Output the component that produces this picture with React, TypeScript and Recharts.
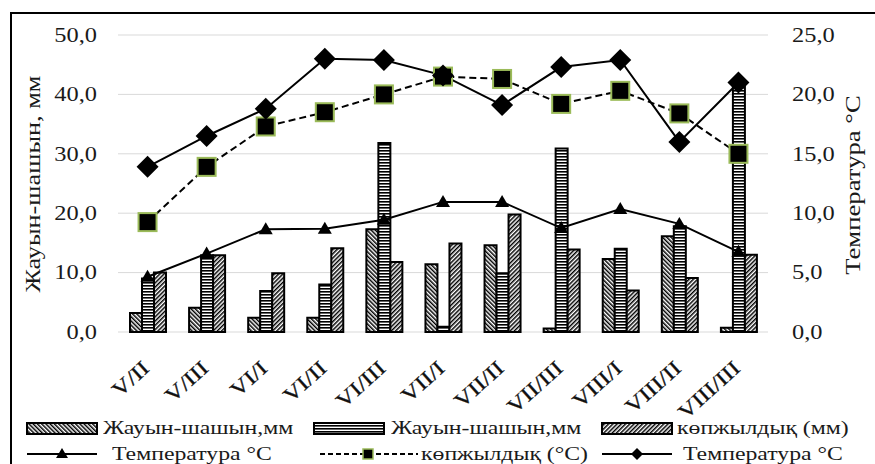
import {
  Bar,
  CartesianGrid,
  ComposedChart,
  Line,
  XAxis,
  YAxis,
} from "recharts";

const categories = [
  "V/II",
  "V/III",
  "VI/I",
  "VI/II",
  "VI/III",
  "VII/I",
  "VII/II",
  "VII/III",
  "VIII/I",
  "VIII/II",
  "VIII/III",
];

// precipitation, mm (left axis)
const rainA = [3.2, 4.1, 2.4, 2.4, 17.3, 11.4, 14.6, 0.6, 12.3, 16.1, 0.7];
const rainB = [9.0, 12.9, 6.9, 8.0, 31.8, 0.9, 9.9, 30.9, 14.0, 17.8, 41.6];
const rainAvg = [10.0, 12.9, 9.9, 14.1, 11.8, 14.9, 19.8, 13.9, 7.0, 9.1, 13.0];

// temperature lines
const tempA = [9.3, 13.2, 17.3, 17.4, 18.9, 21.9, 21.9, 17.5, 20.7, 18.2, 13.5];
const tempAvg = [9.25, 13.9, 17.3, 18.5, 20.0, 21.5, 21.3, 19.2, 20.3, 18.4, 15.0];
const tempB = [13.9, 16.5, 18.8, 23.0, 22.9, 21.6, 19.1, 22.3, 22.9, 16.0, 21.0];

const leftTicks = [0, 10, 20, 30, 40, 50];
const rightTicks = [0, 5, 10, 15, 20, 25];

const names = {
  rainA: "Жауын-шашын,мм",
  rainB: "Жауын-шашын,мм",
  rainAvg: "көпжылдық (мм)",
  tempA: "Температура °C",
  tempAvg: "көпжылдық (°C)",
  tempB: "Температура °C",
};

const data = categories.map((name, i) => ({
  name,
  rainA: rainA[i],
  rainB: rainB[i],
  rainAvg: rainAvg[i],
  tempA: tempA[i],
  tempAvg: tempAvg[i],
  tempB: tempB[i],
}));

const FONT = '"Liberation Serif", "Times New Roman", serif';
const GREEN = "#9BBB59";
const TXT = "#1a1a1a";

const fmt = (v: number) => v.toFixed(1).replace(".", ",");

const LeftTick = ({ x, y, payload }: any) => (
  <text
    transform={`translate(${x - 13},${y}) scale(1.22,1)`}
    textAnchor="end"
    dominantBaseline="central"
    fontSize={20}
    fontFamily={FONT}
    fill={TXT}
  >
    {fmt(payload.value)}
  </text>
);

const RightTick = ({ x, y, payload }: any) => (
  <text
    transform={`translate(${x + 16},${y}) scale(1.22,1)`}
    textAnchor="start"
    dominantBaseline="central"
    fontSize={20}
    fontFamily={FONT}
    fill={TXT}
  >
    {fmt(payload.value)}
  </text>
);

const CatTick = ({ x, y, payload }: any) => (
  <text
    transform={`translate(${x + 3},${y + 38}) rotate(-42) scale(1.22,1)`}
    textAnchor="end"
    fontSize={20.5}
    fontFamily={FONT}
    fill="#111"
    stroke="#111"
    strokeWidth={0.3}
  >
    {payload.value}
  </text>
);

const Triangle = ({ cx, cy }: any) => (
  <polygon
    points={`${cx},${cy - 7} ${cx + 7},${cy + 5} ${cx - 7},${cy + 5}`}
    fill="#000"
  />
);

const Square = ({ cx, cy }: any) => (
  <rect
    x={cx - 9}
    y={cy - 9}
    width={18}
    height={18}
    fill="#000"
    stroke={GREEN}
    strokeWidth={2}
  />
);

const Diamond = ({ cx, cy }: any) => (
  <polygon
    points={`${cx},${cy - 11} ${cx + 11},${cy} ${cx},${cy + 11} ${cx - 11},${cy}`}
    fill="#000"
  />
);

const Patterns = () => (
  <defs>
    <pattern
      id="pBack"
      patternUnits="userSpaceOnUse"
      width="3"
      height="3"
      patternTransform="rotate(-45)"
    >
      <rect width="3" height="3" fill="#fff" />
      <rect width="1.5" height="3" fill="#000" />
    </pattern>
    <pattern id="pHor" patternUnits="userSpaceOnUse" width="3" height="3">
      <rect width="3" height="3" fill="#fff" />
      <rect width="3" height="1.6" fill="#000" />
    </pattern>
    <pattern
      id="pFwd"
      patternUnits="userSpaceOnUse"
      width="3"
      height="3"
      patternTransform="rotate(45)"
    >
      <rect width="3" height="3" fill="#fff" />
      <rect width="1.5" height="3" fill="#000" />
    </pattern>
  </defs>
);

const Swatch = ({ fill }: { fill: string }) => (
  <svg width={72} height={13} style={{ display: "block" }}>
    <rect x={1} y={1} width={70} height={11} fill={fill} stroke="#000" strokeWidth={2} />
  </svg>
);

const LineKey = ({ kind }: { kind: string }) => (
  <svg width={100} height={16} style={{ display: "block" }}>
    <line
      x1={kind === "sq" ? 0 : 5}
      y1={8}
      x2={kind === "sq" ? 98 : 75}
      y2={8}
      stroke="#000"
      strokeWidth={2}
      strokeDasharray={kind === "sq" ? "5 3" : undefined}
    />
    {kind === "tri" && <polygon points="40,2 46,12 34,12" fill="#000" />}
    {kind === "sq" && (
      <rect x={43} y={3} width={10} height={10} fill="#000" stroke={GREEN} strokeWidth={1.5} />
    )}
    {kind === "dia" && <polygon points="40,2 46,8 40,14 34,8" fill="#000" />}
  </svg>
);

const LegendText = ({ children }: any) => (
  <span
    style={{
      display: "inline-block",
      fontFamily: FONT,
      fontSize: 19,
      color: TXT,
      whiteSpace: "nowrap",
      transform: "scaleX(1.25)",
      transformOrigin: "left center",
      lineHeight: "20px",
    }}
  >
    {children}
  </span>
);

const abs = (left: number, top: number) =>
  ({ position: "absolute", left, top } as const);

const ChartLegend = () => (
  <>
    <div style={abs(26, 422)}>
      <Swatch fill="url(#pBack)" />
    </div>
    <div style={abs(103, 418)}>
      <LegendText>{names.rainA}</LegendText>
    </div>
    <div style={abs(313, 422)}>
      <Swatch fill="url(#pHor)" />
    </div>
    <div style={abs(391, 418)}>
      <LegendText>{names.rainB}</LegendText>
    </div>
    <div style={abs(601, 422)}>
      <Swatch fill="url(#pFwd)" />
    </div>
    <div style={abs(677, 418)}>
      <LegendText>{names.rainAvg}</LegendText>
    </div>

    <div style={abs(22, 446)}>
      <LineKey kind="tri" />
    </div>
    <div style={abs(112, 444)}>
      <LegendText>{names.tempA}</LegendText>
    </div>
    <div style={abs(320, 446)}>
      <LineKey kind="sq" />
    </div>
    <div style={abs(421, 444)}>
      <LegendText>{names.tempAvg}</LegendText>
    </div>
    <div style={abs(597, 446)}>
      <LineKey kind="dia" />
    </div>
    <div style={abs(683, 444)}>
      <LegendText>{names.tempB}</LegendText>
    </div>
  </>
);

const App = () => {
  return (
    <div
      style={{
        position: "absolute",
        left: 0,
        top: 0,
        width: 875,
        height: 464,
        overflow: "hidden",
        background: "#fff",
      }}
    >
      <div
        style={{
          position: "absolute",
          left: 10,
          top: 12,
          width: 900,
          height: 500,
          borderLeft: "2px solid #000",
          borderTop: "2px solid #000",
        }}
      />
      <div style={abs(0, 0)}>
        <ComposedChart
          width={875}
          height={464}
          data={data}
          margin={{ top: 35, right: 0, bottom: 0, left: 0 }}
          barGap={0}
        >
          <Patterns />
          <CartesianGrid vertical={false} stroke="#d9d9d9" yAxisId="left" />
          <XAxis
            dataKey="name"
            height={132}
            axisLine={false}
            tickLine={false}
            tickSize={0}
            tickMargin={0}
            interval={0}
            tick={<CatTick />}
          />
          <YAxis
            yAxisId="left"
            width={118}
            domain={[0, 50]}
            ticks={leftTicks}
            axisLine={false}
            tickLine={false}
            tick={<LeftTick />}
            label={{
              content: () => (
                <text
                  transform="translate(33,184) rotate(-90) scale(1.25,1)"
                  textAnchor="middle"
                  dominantBaseline="central"
                  fontSize={21}
                  fontFamily={FONT}
                  fill={TXT}
                >
                  Жауын-шашын, мм
                </text>
              ),
            }}
          />
          <YAxis
            yAxisId="right"
            orientation="right"
            width={107}
            domain={[0, 25]}
            ticks={rightTicks}
            axisLine={false}
            tickLine={false}
            tick={<RightTick />}
            label={{
              content: () => (
                <text
                  transform="translate(853,185) rotate(-90) scale(1.27,1)"
                  textAnchor="middle"
                  dominantBaseline="central"
                  fontSize={21}
                  fontFamily={FONT}
                  fill={TXT}
                >
                  Температура °C
                </text>
              ),
            }}
          />
          <Bar
            yAxisId="left"
            dataKey="rainA"
            name={names.rainA}
            barSize={12}
            fill="url(#pBack)"
            stroke="#000"
            strokeWidth={2}
            isAnimationActive={false}
          />
          <Bar
            yAxisId="left"
            dataKey="rainB"
            name={names.rainB}
            barSize={12}
            fill="url(#pHor)"
            stroke="#000"
            strokeWidth={2}
            isAnimationActive={false}
          />
          <Bar
            yAxisId="left"
            dataKey="rainAvg"
            name={names.rainAvg}
            barSize={12}
            fill="url(#pFwd)"
            stroke="#000"
            strokeWidth={2}
            isAnimationActive={false}
          />
          <Line
            yAxisId="left"
            dataKey="tempA"
            name={names.tempA}
            stroke="#000"
            strokeWidth={2}
            dot={(p: any) => <Triangle key={`t${p.index}`} cx={p.cx} cy={p.cy} />}
            activeDot={false}
            isAnimationActive={false}
          />
          <Line
            yAxisId="right"
            dataKey="tempAvg"
            name={names.tempAvg}
            stroke="#000"
            strokeWidth={2}
            strokeDasharray="7 4"
            dot={(p: any) => <Square key={`s${p.index}`} cx={p.cx} cy={p.cy} />}
            activeDot={false}
            isAnimationActive={false}
          />
          <Line
            yAxisId="right"
            dataKey="tempB"
            name={names.tempB}
            stroke="#000"
            strokeWidth={2}
            dot={(p: any) => <Diamond key={`d${p.index}`} cx={p.cx} cy={p.cy} />}
            activeDot={false}
            isAnimationActive={false}
          />
        </ComposedChart>
      </div>
      <ChartLegend />
    </div>
  );
};

export default App;
